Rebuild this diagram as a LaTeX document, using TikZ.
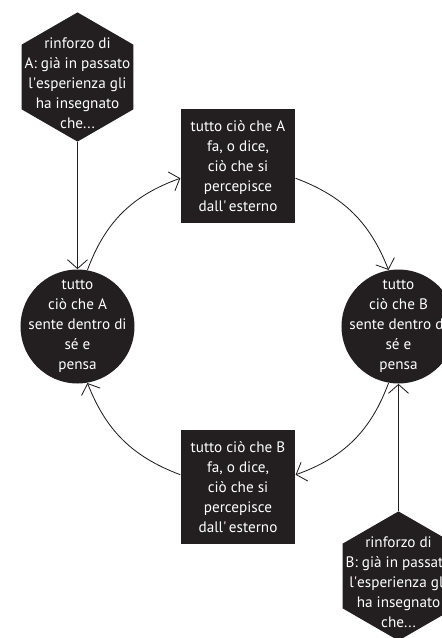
\documentclass[tikz,border=0pt]{standalone}
\usepackage{fontspec}
\setmainfont{PT Sans}
\usetikzlibrary{arrows.meta,shapes.geometric,positioning}
\definecolor{ink}{RGB}{35,31,32}

\begin{document}
\begin{tikzpicture}[->, >={Straight Barb[length=2.2mm,width=5mm]}, draw=ink, line width=0.6pt,
  every label/.style={text=white, align=center, font=\fontsize{10.8}{14.2}\selectfont},
  inner/.style={circle, fill=ink, minimum size=2.85cm, inner sep=0pt},
  outer/.style={rectangle, fill=ink, minimum size=2.86cm, inner sep=0pt},
  memory/.style={regular polygon, regular polygon sides=6, shape border rotate=30, fill=ink, minimum size=3.23cm, inner sep=0pt}]
\path[use as bounding box] (-5.95,-7.7875) rectangle (5.1,8.1625);
\node[inner, label={center:{tutto\\ciò che A\\sente dentro di\\sé e\\pensa}}] (Pa) at (180:4.0125) {};
\node[inner, label={center:{tutto\\ciò che B\\sente dentro di\\sé e\\pensa}}] (Pb) at (0:4.0125) {};
\node[outer, label={center:{tutto ciò che A\\fa, o dice,\\ciò che si\\percepisce\\dall\textquotesingle\,esterno}}] (Fa) at (90:4.0125) {};
\node[outer, label={center:{tutto ciò che B\\fa, o dice,\\ciò che si\\percepisce\\dall\textquotesingle\,esterno}}] (Fb) at (270:4.0125) {};
\node[memory, label={[yshift=-1.5mm]center:{rinforzo di\\A: già in passato\\l\textquotesingle esperienza gli\\ha insegnato\\che...}}] (Ra) at (-4.0125,6.2375) {};
\node[memory, label={[yshift=-1.5mm]center:{rinforzo di\\B: già in passato\\l\textquotesingle esperienza gli\\ha insegnato\\che...}}] (Rb) at (4.0125,-6.2375) {};
\draw (Ra) -- (Pa);
\draw (Rb) -- (Pb);
\path (Pa.80) edge[bend left=25] (Fa.192);
\path (Fa.348) edge[bend left=24] (Pb.100);
\path (Pb.260) edge[bend left=25] (Fb.12);
\path (Fb.168) edge[bend left=24] (Pa.280);
\end{tikzpicture}
\end{document}
